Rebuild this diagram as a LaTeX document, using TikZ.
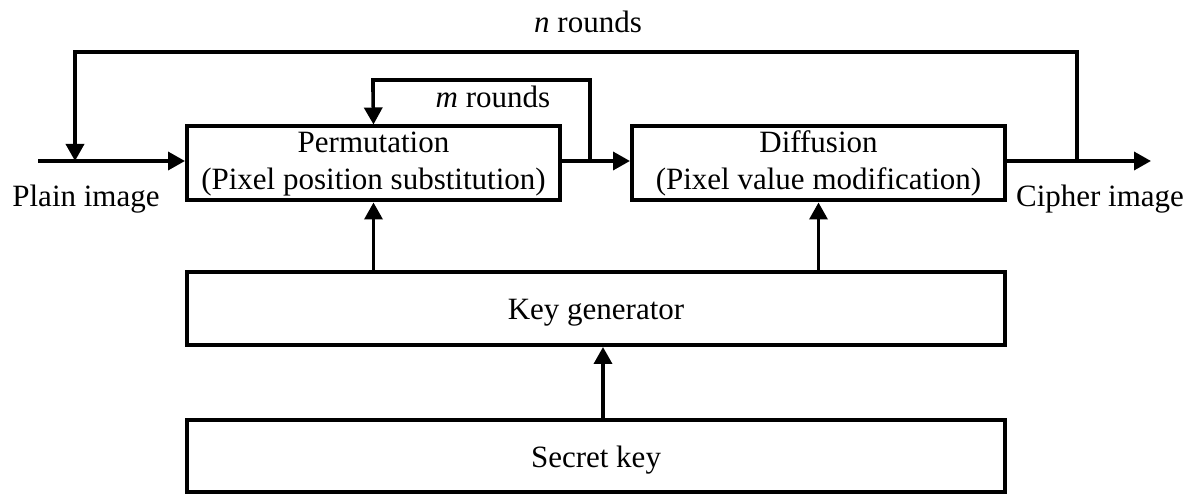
\documentclass[tikz,border=0pt]{standalone}
\usepackage{fontspec}
\setmainfont{Liberation Serif}
\usetikzlibrary{arrows.meta}
\newcommand{\boxtext}[1]{\begin{tabular}{@{}c@{}}#1\end{tabular}}
\newcommand{\lowtext}[1]{\raisebox{-4pt}[\height][\depth]{#1}}
\tikzset{
  blockbox/.style={draw, line width=4pt, rectangle, inner sep=0pt, align=center,
    font=\fontsize{31}{37}\selectfont},
  lbl/.style={inner sep=0pt, font=\fontsize{31}{37}\selectfont},
  flow/.style={line width=3.5pt, -{Triangle[length=17pt,width=18pt]}},
  wire/.style={line width=3.5pt, line join=miter},
}
\begin{document}
\begin{tikzpicture}[x=1pt,y=-1pt]
\useasboundingbox (0,0) rectangle (1195,494);

% processing blocks
\node[blockbox, minimum width=373pt, minimum height=73pt] (perm) at (373.5,163.5)
  {\boxtext{Permutation\\(Pixel position substitution)}};
\node[blockbox, minimum width=373pt, minimum height=73pt] (diff) at (818.5,163.5)
  {\boxtext{Diffusion\\(Pixel value modification)}};
\node[blockbox, minimum width=818pt, minimum height=73pt] (keygen) at (596,308.5)
  {\lowtext{Key generator}};
\node[blockbox, minimum width=818pt, minimum height=72pt] (secret) at (596,456)
  {\lowtext{Secret key}};

% labels
\node[lbl, anchor=base] (plain) at (86,207) {Plain image};
\node[lbl, anchor=base] (cipher) at (1100,207) {Cipher image};
\node[lbl, anchor=base] (nr) at (588,33) {\textit{n} rounds};
\node[lbl, anchor=base] (mr) at (493,108) {\textit{m} rounds};

% helper points on the main data line
\coordinate (in) at (38,161);
\coordinate (out) at (1151,161);
\coordinate (nsplit) at (1077,161);
\coordinate (njoin) at (75,161);
\coordinate (msplit) at (590,161);

% main data path
\draw[flow] (in) -- (perm.west |- in);
\draw[flow] (perm.east |- in) -- (diff.west |- in);
\draw[flow] (diff.east |- in) -- (out);

% n-round feedback loop
\draw[wire] (nsplit) -- (1077,52) -- (75,52) -- (75,62);
\draw[flow] (75,60) -- (njoin);

% m-round feedback loop
\draw[wire] (msplit) -- (590,80) -- (373,80) -- (373,92);
\draw[flow] (373,90) -- (perm.north);

% key distribution
\draw[flow] (keygen.north -| perm) -- (perm.south);
\draw[flow] (keygen.north -| diff) -- (diff.south);
\draw[flow] (secret.north -| 603,0) -- (keygen.south -| 603,0);
\end{tikzpicture}
\end{document}
